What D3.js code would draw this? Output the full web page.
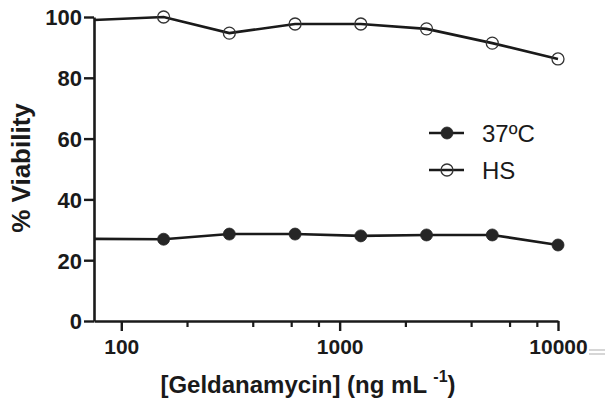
<!DOCTYPE html>
<html>
<head>
<meta charset="utf-8">
<script src="https://cdn.jsdelivr.net/npm/d3@7"></script>
<style>
  html, body { margin: 0; padding: 0; background: #fff; }
  svg { display: block; }
</style>
</head>
<body>
<svg id="chart" width="612" height="412"></svg>
<script>
// ---- data ----
const concentrations = [75, 156.25, 312.5, 625, 1250, 2500, 5000, 10000]; // first value = left axis edge (line only)
const viability37 = [27.0, 26.9, 28.6, 28.6, 28.0, 28.3, 28.3, 25.0];
const viabilityHS = [99.0, 100.0, 94.7, 97.7, 97.7, 96.1, 91.4, 86.2];
const seriesNames = ["37ºC", "HS"];
const xTickLabels = [100, 1000, 10000];
const xMinorTicks = [200, 400, 600, 800, 2000, 4000, 6000, 8000];
const yTickLabels = [0, 20, 40, 60, 80, 100];

const svg = d3.select("#chart");
const font = "'Liberation Sans', Arial, sans-serif";
const ink = "#1a1a1a";

const x = d3.scaleLog().domain([75, 10000]).range([94, 558]);
const y = d3.scaleLinear().domain([0, 100]).range([321, 17]);

// axes
const yAxis = svg.append("g").attr("transform", "translate(94,0)")
  .call(d3.axisLeft(y).tickValues(yTickLabels).tickSize(10).tickSizeOuter(0).tickPadding(2));
yAxis.select(".domain").attr("stroke", ink).attr("stroke-width", 2.6);
yAxis.selectAll(".tick line").attr("stroke", ink).attr("stroke-width", 2.4);
yAxis.selectAll(".tick text").attr("font-family", font).attr("font-weight", "bold")
  .attr("font-size", 22).attr("fill", ink).attr("dy", "0.36em");

const xAxis = svg.append("g").attr("transform", "translate(0,321)")
  .call(d3.axisBottom(x).tickValues(xTickLabels).tickFormat(d3.format("d")).tickSize(10).tickSizeOuter(0).tickPadding(8));
xAxis.select(".domain").attr("stroke", ink).attr("stroke-width", 2.6);
xAxis.selectAll(".tick line").attr("stroke", ink).attr("stroke-width", 2.4);
xAxis.selectAll(".tick text").attr("font-family", font).attr("font-weight", "bold")
  .attr("font-size", 21).attr("fill", ink);

const xMinor = svg.append("g").attr("transform", "translate(0,321)")
  .call(d3.axisBottom(x).tickValues(xMinorTicks).tickSize(6).tickFormat(""));
xMinor.select(".domain").remove();
xMinor.selectAll(".tick line").attr("stroke", ink).attr("stroke-width", 2.2);

// small gray artifact marks after 10000
svg.append("g").selectAll("line").data([0, 1]).join("line")
  .attr("x1", 589).attr("x2", 605)
  .attr("y1", d => 350 + d * 4).attr("y2", d => 350 + d * 4)
  .attr("stroke", "#bbb").attr("stroke-width", 1.2);

// axis titles
const xt = svg.append("text").attr("x", 308).attr("y", 393).attr("text-anchor", "middle")
  .attr("font-family", font).attr("font-weight", "bold").attr("font-size", 24).attr("fill", ink);
xt.append("tspan").text("[Geldanamycin] (ng mL ");
xt.append("tspan").attr("font-size", 16).attr("dy", -11).text("-1");
xt.append("tspan").attr("dy", 11).text(")");

svg.append("text").attr("transform", "translate(30,168) rotate(-90)").attr("text-anchor", "middle")
  .attr("font-family", font).attr("font-weight", "bold").attr("font-size", 26).attr("fill", ink)
  .text("% Viability");

// lines
const line = d3.line().x(d => x(d[0])).y(d => y(d[1]));
const d37 = concentrations.map((c, i) => [c, viability37[i]]);
const dHS = concentrations.map((c, i) => [c, viabilityHS[i]]);

svg.append("path").datum(d37).attr("d", line).attr("fill", "none").attr("stroke", ink).attr("stroke-width", 2.6);
svg.append("path").datum(dHS).attr("d", line).attr("fill", "none").attr("stroke", ink).attr("stroke-width", 2.6);

svg.append("g").selectAll("circle").data(d37.slice(1)).join("circle")
  .attr("cx", d => x(d[0])).attr("cy", d => y(d[1])).attr("r", 6)
  .attr("fill", "#262626").attr("stroke", "#262626").attr("stroke-width", 0.8);
svg.append("g").selectAll("circle").data(dHS.slice(1)).join("circle")
  .attr("cx", d => x(d[0])).attr("cy", d => y(d[1])).attr("r", 6)
  .attr("fill", "none").attr("stroke", "#333").attr("stroke-width", 1.3);

// legend
const legend = svg.append("g");
const legY = [133, 170];
seriesNames.forEach((name, i) => {
  const g = legend.append("g").attr("transform", `translate(0,${legY[i]})`);
  g.append("line").attr("x1", 429).attr("x2", 464).attr("stroke", ink).attr("stroke-width", 2.4);
  g.append("circle").attr("cx", 447).attr("r", 6)
    .attr("fill", i === 0 ? "#262626" : "none").attr("stroke", i === 0 ? "#262626" : "#333")
    .attr("stroke-width", i === 0 ? 0.8 : 1.3);
  g.append("text").attr("x", 482).attr("dy", "0.36em").attr("font-family", font)
    .attr("font-size", 24).attr("fill", ink).text(name);
});
</script>
</body>
</html>
